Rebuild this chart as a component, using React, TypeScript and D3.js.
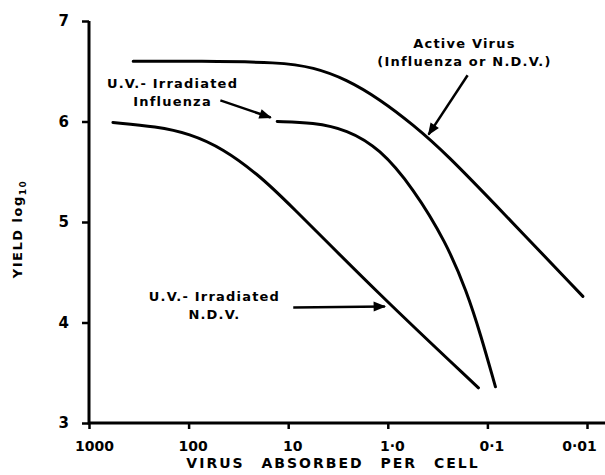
import React, { useEffect, useRef } from 'react';
import * as d3 from 'd3';

// virus absorbed per cell (x) and log10 yield (y)
const activeDose = [360, 78, 12, 5.6, 2.6, 1.2, 0.56, 0.26, 0.074, 0.011];
const activeYield = [6.6, 6.6, 6.59, 6.54, 6.42, 6.22, 5.97, 5.68, 5.12, 4.26];

const fluDose = [12.9, 5.6, 2.57, 1.2, 0.56, 0.26, 0.16, 0.117, 0.083];
const fluYield = [6.0, 5.99, 5.92, 5.73, 5.34, 4.8, 4.3, 3.88, 3.36];

const ndvDose = [575, 209, 98, 45, 20, 11.2, 1.2, 0.123];
const ndvYield = [5.99, 5.95, 5.88, 5.73, 5.47, 5.24, 4.27, 3.35];

const xTicks = [1000, 100, 10, 1, 0.1, 0.01];
const xTickLabels = ['1000', '100', '10', '1·0', '0·1', '0·01'];
const yTicks = [3, 4, 5, 6, 7];

interface Note {
  lines: string[];
  at: [number, number]; // label centre (dose, yield)
  from: [number, number];
  to: [number, number];
}

const notes: Note[] = [
  { lines: ['Active Virus', '(Influenza or N.D.V.)'], at: [0.17, 6.73], from: [0.158, 6.46], to: [0.39, 5.87] },
  { lines: ['U.V.- Irradiated', 'Influenza'], at: [145, 6.33], from: [48, 6.21], to: [15, 6.04] },
  { lines: ['U.V.- Irradiated', 'N.D.V.'], at: [55, 4.21], from: [8.9, 4.15], to: [1.07, 4.16] },
];

const W = 605;
const H = 475;
const FONT = '"DejaVu Sans", Verdana, sans-serif';

const App: React.FC = () => {
  const svgRef = useRef<SVGSVGElement | null>(null);

  useEffect(() => {
    document.body.style.margin = '0';
    const svg = d3.select(svgRef.current);
    svg.selectAll('*').remove();

    const x = d3.scaleLog().domain([1000, 0.01]).range([89, 587]);
    const y = d3.scaleLinear().domain([3, 7]).range([423, 21]);

    svg.append('defs')
      .append('marker')
      .attr('id', 'head')
      .attr('viewBox', '0 0 10 10')
      .attr('refX', 9)
      .attr('refY', 5)
      .attr('markerWidth', 6)
      .attr('markerHeight', 5)
      .attr('markerUnits', 'strokeWidth')
      .attr('orient', 'auto')
      .append('path')
      .attr('d', 'M0,1 L10,5 L0,9 Z')
      .attr('fill', '#000');

    // axes
    const xAxis = d3.axisBottom(x)
      .tickValues(xTicks)
      .tickFormat((_, i) => xTickLabels[i])
      .tickSize(6)
      .tickPadding(12);
    const gx = svg.append('g').attr('transform', 'translate(0,423)').call(xAxis);
    gx.select('.domain').remove();
    gx.selectAll('line').attr('stroke-width', 2.5);
    gx.selectAll('text')
      .attr('font-family', FONT)
      .attr('font-weight', 'bold')
      .attr('font-size', 14)
      .attr('dx', (_, i) => (i === 0 ? 5 : i === 5 ? -8 : 4));

    const yAxis = d3.axisLeft(y)
      .tickValues(yTicks)
      .tickFormat(d3.format('d'))
      .tickSize(7)
      .tickPadding(13);
    const gy = svg.append('g').attr('transform', 'translate(89,0)').call(yAxis);
    gy.select('.domain').remove();
    gy.selectAll('line').attr('stroke-width', 2.5);
    gy.selectAll('text')
      .attr('font-family', FONT)
      .attr('font-weight', 'bold')
      .attr('font-size', 15);

    svg.append('path')
      .attr('d', `M89,${y(7)} V423 H${W}`)
      .attr('fill', 'none')
      .attr('stroke', '#000')
      .attr('stroke-width', 3);

    // curves
    const line = d3.line<[number, number]>()
      .x((d) => x(d[0]))
      .y((d) => y(d[1]))
      .curve(d3.curveBasis);

    const series: [number[], number[]][] = [
      [activeDose, activeYield],
      [fluDose, fluYield],
      [ndvDose, ndvYield],
    ];
    series.forEach(([dx, dy]) => {
      svg.append('path')
        .datum(dx.map((v, i) => [v, dy[i]] as [number, number]))
        .attr('d', line)
        .attr('fill', 'none')
        .attr('stroke', '#000')
        .attr('stroke-width', 3)
        .attr('stroke-linecap', 'round');
    });

    // labels and arrows
    notes.forEach((n) => {
      const t = svg.append('text')
        .attr('text-anchor', 'middle')
        .attr('font-family', FONT)
        .attr('font-weight', 'bold')
        .attr('font-size', 13)
        .attr('letter-spacing', 1.2);
      n.lines.forEach((s, i) => {
        t.append('tspan')
          .attr('x', x(n.at[0]))
          .attr('y', y(n.at[1]) + i * 18)
          .text(s);
      });
      svg.append('line')
        .attr('x1', x(n.from[0]))
        .attr('y1', y(n.from[1]))
        .attr('x2', x(n.to[0]))
        .attr('y2', y(n.to[1]))
        .attr('stroke', '#000')
        .attr('stroke-width', 2.5)
        .attr('marker-end', 'url(#head)');
    });

    svg.append('text')
      .attr('x', 333)
      .attr('y', 468)
      .attr('text-anchor', 'middle')
      .attr('font-family', FONT)
      .attr('font-weight', 'bold')
      .attr('font-size', 14)
      .attr('letter-spacing', 2)
      .attr('word-spacing', 10)
      .text('VIRUS ABSORBED PER CELL');

    const yt = svg.append('text')
      .attr('transform', 'translate(22,229) rotate(-90)')
      .attr('text-anchor', 'middle')
      .attr('font-family', FONT)
      .attr('font-weight', 'bold')
      .attr('font-size', 13)
      .attr('letter-spacing', 1.5);
    yt.append('tspan').text('YIELD  log');
    yt.append('tspan').attr('font-size', 9).attr('dy', 4).text('10');
  }, []);

  return <svg ref={svgRef} width={W} height={H} style={{ display: 'block', background: '#fff' }} />;
};

export default App;
